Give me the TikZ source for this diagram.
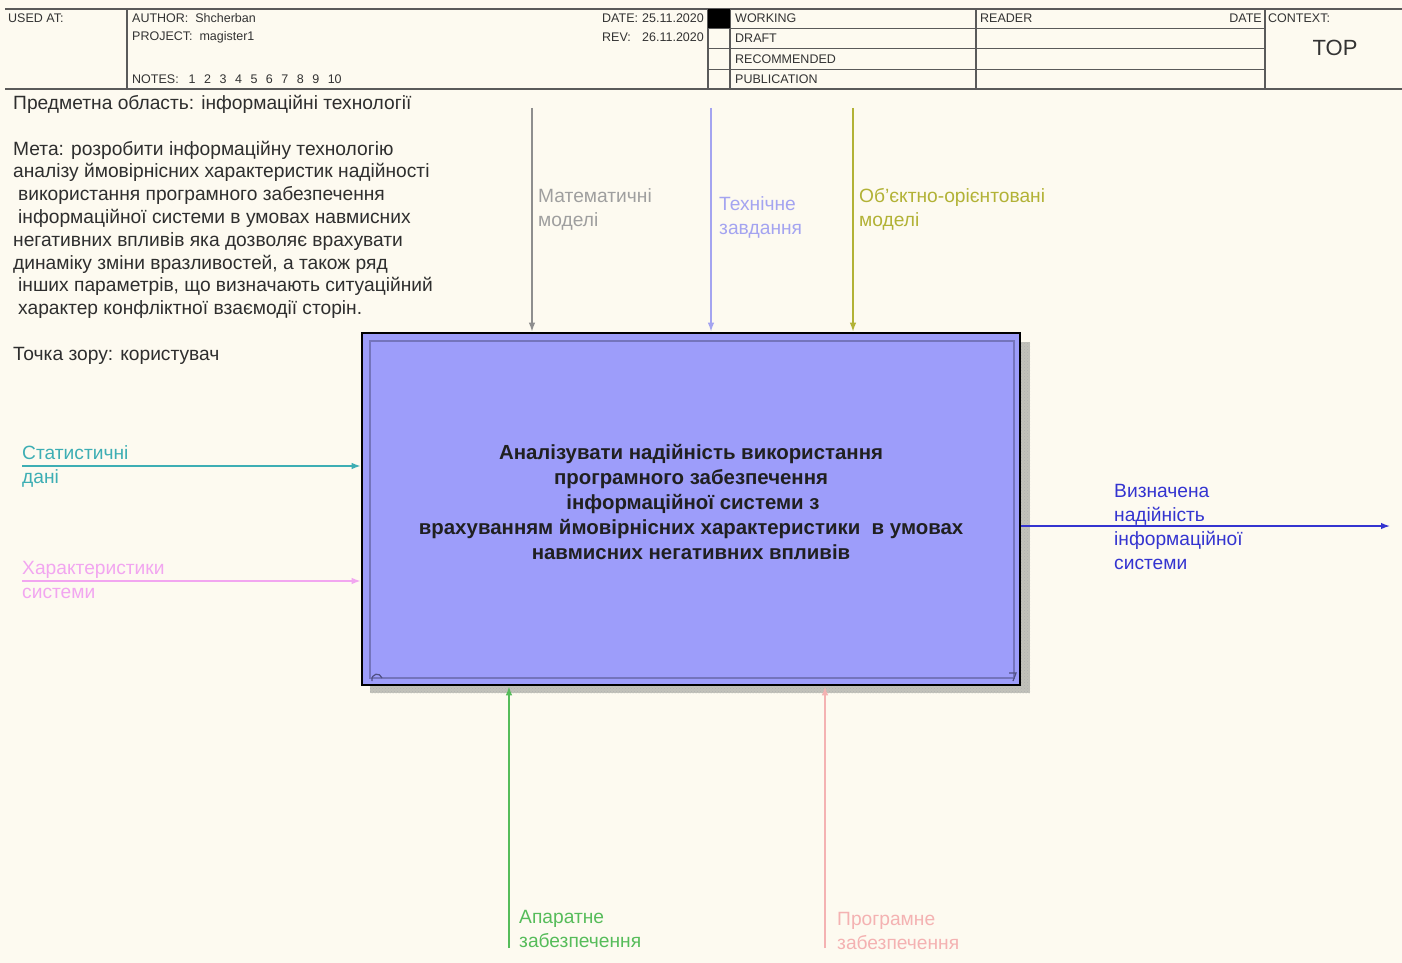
\documentclass[tikz,border=0pt]{standalone}
\usepackage{fontspec}
\setmainfont{Liberation Sans}
\usetikzlibrary{arrows.meta,calc,patterns}

\definecolor{paper}{HTML}{FDFAF0}
\definecolor{frameln}{HTML}{5A5A5A}
\definecolor{hdrtxt}{HTML}{333333}
\definecolor{actfill}{HTML}{9D9DFA}
\definecolor{actinner}{HTML}{7474BC}
\definecolor{acttxt}{HTML}{202020}
\definecolor{cMath}{HTML}{8E8E8E}
\definecolor{cTech}{HTML}{A4A4F0}
\definecolor{cObj}{HTML}{B2B236}
\definecolor{cStat}{HTML}{3DAEB4}
\definecolor{cChar}{HTML}{F2A6F0}
\definecolor{cOut}{HTML}{3434D0}
\definecolor{cHw}{HTML}{56BC5A}
\definecolor{cSw}{HTML}{F4B2B2}
\definecolor{shadowgray}{HTML}{C2C2BA}

\newcommand{\notegap}{\hspace{8.5pt}}

\tikzset{
  hdr/.style={font=\fontsize{12.5}{14}\selectfont, text=hdrtxt, inner sep=0pt, anchor=west},
  frame/.style={draw=frameln, line width=1.6pt},
  arrowline/.style={line width=1.4pt, -{Latex[length=9pt,width=6.5pt]}},
  lbl/.style={font=\fontsize{19.2}{24}\selectfont, inner sep=0pt, anchor=west, align=left},
}

\begin{document}
\begin{tikzpicture}[x=1pt,y=-1pt]
  % page
  \fill[paper] (0,0) rectangle (1402,963);
  \useasboundingbox (0,0) rectangle (1402,963);

  % ---------- title block ----------
  \draw[frame] (5,9) -- (1402,9);
  \draw[frame] (5,89) -- (1402,89);
  \foreach \xx in {127,708,730,976,1265} \draw[frame] (\xx,9) -- (\xx,89);
  \foreach \yy in {28.5,48.5,69.5} \draw[frame, line width=1.2pt] (708,\yy) -- (1265,\yy);

  \node[hdr] (usedat)  at (8,18)   {USED AT:};
  \node[hdr] (author)  at (132,18) {AUTHOR:\ \ Shcherban};
  \node[hdr] (project) at (132,37) {PROJECT:\ \ magister1};
  \node[hdr] (notes)   at (132,79) {NOTES:\hspace{10pt}1\notegap 2\notegap 3\notegap 4\notegap 5\notegap 6\notegap 7\notegap 8\notegap 9\notegap 10};
  \node[hdr] (date)    at (602,18) {\makebox[40pt][l]{DATE:}25.11.2020};
  \node[hdr] (rev)     at (602,37) {\makebox[40pt][l]{REV:}26.11.2020};
  \fill[black] (708,9) rectangle (730,28.5);
  \node[hdr] (working) at (735,18) {WORKING};
  \node[hdr] (draft)   at (735,38) {DRAFT};
  \node[hdr] (recomm)  at (735,59) {RECOMMENDED};
  \node[hdr] (publ)    at (735,79) {PUBLICATION};
  \node[hdr] (reader)  at (980,18) {READER};
  \node[hdr, anchor=east] (rdate) at (1262,18) {DATE};
  \node[hdr] (context) at (1268,18) {CONTEXT:};
  \node[font=\fontsize{22}{26}\selectfont, text=hdrtxt, inner sep=0pt] (top) at (1335,48) {TOP};

  % ---------- purpose text ----------
  \node[font=\fontsize{19.2}{22.8}\selectfont, text=black!82, inner sep=0pt,
        anchor=north west, align=left] (purpose) at (13,95)
  {Предметна область: інформаційні технології\\[22.8pt]
   Мета: розробити інформаційну технологію\\
   аналізу ймовірнісних характеристик надійності\\
   \hspace*{5pt}використання програмного забезпечення\\
   \hspace*{5pt}інформаційної системи в умовах навмисних\\
   негативних впливів яка дозволяє врахувати\\
   динаміку зміни вразливостей, а також ряд\\
   \hspace*{5pt}інших параметрів, що визначають ситуаційний\\
   \hspace*{5pt}характер конфліктної взаємодії сторін.\\[22.8pt]
   Точка зору: користувач};

  % ---------- activity box with its drop shadow ----------
  \fill[shadowgray] (370,342) rectangle (1030,693);
  \fill[pattern=crosshatch dots, pattern color=gray!60] (370,342) rectangle (1030,693);
  \node[draw=black, line width=2.6pt, fill=actfill, minimum width=658pt,
        minimum height=352pt, inner sep=0pt] (box) at (691,509) {};
  \draw[actinner, line width=2pt] ($(box.north west)+(9,9)$) rectangle ($(box.south east)+(-7,-8)$);
  \draw[actinner!70!black, line width=1.2pt] (372,681) .. controls (371,673) and (380,672) .. (382,678);
  \draw[actinner!70!black, line width=1.2pt] (1009,673) -- (1016,673) -- (1013,681);
  \node[font=\bfseries\fontsize{20.4}{25}\selectfont, text=acttxt, align=center, inner sep=0pt]
    (boxtext) at (691,502)
  {Аналізувати надійність використання\\
   програмного забезпечення\\
   \hspace*{4pt}інформаційної системи з\\
   врахуванням ймовірнісних характеристики\ \ в умовах\\
   навмисних негативних впливів};

  % ---------- controls ----------
  \coordinate (ctlA) at (532,108);
  \coordinate (ctlB) at (711,108);
  \coordinate (ctlC) at (853,108);
  \draw[arrowline, cMath] (ctlA) -- (ctlA |- box.north);
  \draw[arrowline, cTech] (ctlB) -- (ctlB |- box.north);
  \draw[arrowline, cObj]  (ctlC) -- (ctlC |- box.north);
  \node[lbl, text=cMath!85] (lblA) at (538,209) {Математичні\\моделі};
  \node[lbl, text=cTech]    (lblB) at (719,217) {Технічне\\завдання};
  \node[lbl, text=cObj]     (lblC) at (859,209) {Об'єктно-орієнтовані\\моделі};

  % ---------- inputs ----------
  \coordinate (inA) at (22,466);
  \coordinate (inB) at (22,581);
  \draw[arrowline, cStat] (inA) -- (inA -| box.west);
  \draw[arrowline, cChar] (inB) -- (inB -| box.west);
  \node[lbl, text=cStat] (lblIA) at (22,466) {Статистичні\\дані};
  \node[lbl, text=cChar] (lblIB) at (22,580) {Характеристики\\системи};

  % ---------- output ----------
  \coordinate (outA) at (1390,526);
  \draw[arrowline, cOut] (outA -| box.east) -- (outA);
  \node[lbl, text=cOut] (lblO) at (1114,527) {Визначена\\надійність\\інформаційної\\системи};

  % ---------- mechanisms ----------
  \coordinate (mA) at (509,948);
  \coordinate (mB) at (825,948);
  \draw[arrowline, cHw] (mA) -- (mA |- box.south);
  \draw[arrowline, cSw] (mB) -- (mB |- box.south);
  \node[lbl, text=cHw] (lblMA) at (519,929) {Апаратне\\забезпечення};
  \node[lbl, text=cSw] (lblMB) at (837,931) {Програмне\\забезпечення};
\end{tikzpicture}
\end{document}
